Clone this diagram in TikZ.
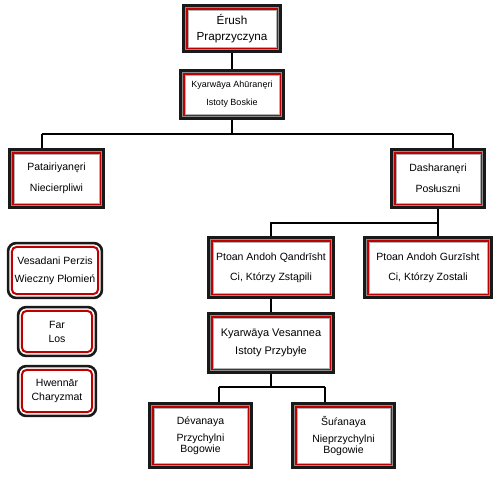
\documentclass[tikz,border=0pt]{standalone}
\usepackage{fontspec}
\setmainfont{Liberation Sans}
\newcommand\sqframe[1]{%
  \draw[black!90, line width=3pt] ([shift={(1.5pt,-1.5pt)}]#1.north west) rectangle ([shift={(-1.5pt,1.5pt)}]#1.south east);
  \draw[black!45, line width=1pt] ([shift={(3.5pt,-3.5pt)}]#1.north west) rectangle ([shift={(-3.5pt,3.5pt)}]#1.south east);
  \draw[red!75!black, line width=2pt] ([shift={(5pt,-5pt)}]#1.north west) rectangle ([shift={(-5pt,5pt)}]#1.south east);
  \draw[black!30, line width=0.6pt] ([shift={(6.3pt,-6.3pt)}]#1.north west) rectangle ([shift={(-6.3pt,6.3pt)}]#1.south east);
}
\newcommand\rdframe[1]{%
  \draw[black!90, line width=2.6pt, rounded corners=8pt] ([shift={(1.3pt,-1.3pt)}]#1.north west) rectangle ([shift={(-1.3pt,1.3pt)}]#1.south east);
  \draw[red!75!black, line width=2pt, rounded corners=5pt] ([shift={(5pt,-5pt)}]#1.north west) rectangle ([shift={(-5pt,5pt)}]#1.south east);
}
\begin{document}
\begin{tikzpicture}[x=1pt,y=-1pt,
  bx/.style={inner sep=0pt, align=center, fill=white},
  fs/.style={font=\fontsize{10.5}{#1}\selectfont},
  conn/.style={draw=black, line width=1.8pt}]
\useasboundingbox[fill=white] (0,0) rectangle (500,489);

% nodes
\node[bx, minimum width=100pt, minimum height=49pt, font=\fontsize{11.7}{16}\selectfont] (A) at (232,28.5) {Érush\\Praprzyczyna};
\node[bx, font=\fontsize{9}{18}\selectfont, minimum width=106pt, minimum height=51pt] (B) at (232,94.5) {Kyarwāya Ahūranęri\\Istoty Boskie};
\node[bx, fs=21, minimum width=97pt, minimum height=61pt] (C) at (56.5,178.5) {Patairiyanęri\\Niecierpliwi};
\node[bx, fs=21, minimum width=96pt, minimum height=61pt] (D) at (438,178.5) {Dasharanęri\\Posłuszni};
\node[bx, fs=20, minimum width=128pt, minimum height=63pt] (E) at (271,267.5) {Ptoan Andoh Qandrīsht\\Ci, Którzy Zstąpili};
\node[bx, fs=20, minimum width=130pt, minimum height=63pt] (F) at (428,267.5) {Ptoan Andoh Gurzīsht\\Ci, Którzy Zostali};
\node[bx, font=\fontsize{11}{18}\selectfont, minimum width=128pt, minimum height=62pt] (G) at (271,343) {Kyarwāya Vesannea\\Istoty Przybyłe};
\node[bx, fs=11, minimum width=105pt, minimum height=67pt] (H) at (200.5,435.5) {Dévanaya\\[6pt]Przychylni\\Bogowie};
\node[bx, fs=11, minimum width=105pt, minimum height=67pt] (I) at (343.5,435.5) {Šuŕanaya\\[6pt]Nieprzychylni\\Bogowie};
\node[bx, fs=18, minimum width=96pt, minimum height=57pt] (R1) at (55,270.5) {Vesadani Perzis\\Wieczny Płomień};
\node[bx, fs=14, minimum width=80pt, minimum height=51pt] (R2) at (57,331.5) {Far\\Los};
\node[bx, fs=14, minimum width=80pt, minimum height=52pt] (R3) at (57,391) {Hwennār\\Charyzmat};

% connectors
\coordinate (j1) at (232,134);
\coordinate (c1) at (42,134);
\coordinate (d1) at (453,134);
\coordinate (j2) at (438,223);
\coordinate (h1) at (219,387);
\coordinate (i1) at (325,387);
\draw[conn] (A.south) -- (B.north);
\draw[conn] (B.south) -- (j1);
\draw[conn] (c1) -- (d1);
\draw[conn] (c1) -- (c1 |- C.north);
\draw[conn] (d1) -- (d1 |- D.north);
\draw[conn] (D.south) -- (D.south |- F.north);
\draw[conn] (j2) -| (E.north);
\draw[conn] (E.south) -- (G.north);
\draw[conn] (G.south) -- (G.south |- h1);
\draw[conn] (h1) -- (i1);
\draw[conn] (h1) -- (h1 |- H.north);
\draw[conn] (i1) -- (i1 |- I.north);

% frames
\foreach \n in {A,B,C,D,E,F,G,H,I} {\sqframe{\n}}
\foreach \n in {R1,R2,R3} {\rdframe{\n}}
\end{tikzpicture}
\end{document}
